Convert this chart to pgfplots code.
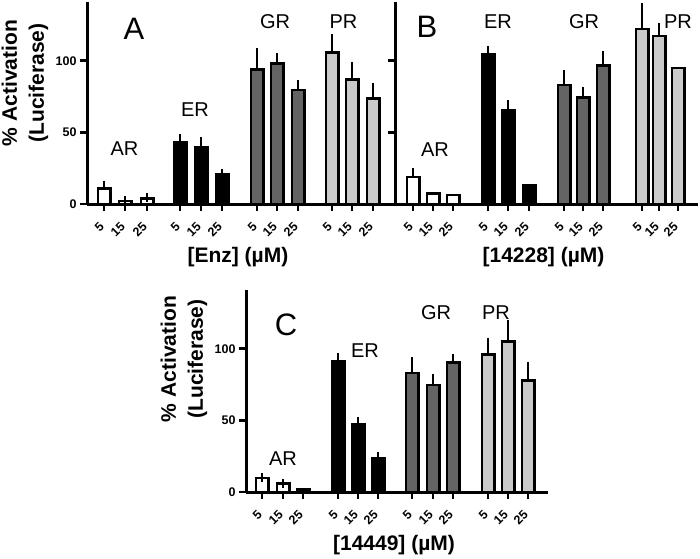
\documentclass[border=0pt]{standalone}
\usepackage{fontspec}
\setmainfont{Liberation Sans}
\usepackage{pgfplots}
\pgfplotsset{compat=1.18}
\definecolor{grbar}{RGB}{100,100,100}
\definecolor{prbar}{RGB}{202,202,202}
\newcommand{\rt}[1]{\rotatebox{45}{#1}}

\pgfplotsset{
  panel/.style={
    scale only axis, height=202pt, ymin=0, ymax=141, xmin=0,
    axis lines*=left, axis line style={-, line width=3pt},
    ybar, bar width=12.5pt, bar shift=0pt, clip=false,
    ytick={0,50,100}, tick align=outside, major tick length=7pt,
    tick style={line width=2.5pt, black},
    /pgf/number format/assume math mode=true,
    ticklabel style={font=\bfseries\fontsize{12.5}{12.5}\selectfont},
    xticklabel style={anchor=north east, inner sep=0pt, xshift=1pt, yshift=-10pt},
    xticklabels={\rt{5},\rt{15},\rt{25},\rt{5},\rt{15},\rt{25},\rt{5},\rt{15},\rt{25},\rt{5},\rt{15},\rt{25}},
    ylabel={\% Activation\\(Luciferase)},
    ylabel style={at={(axis description cs:0,0.5)}, yshift=62pt, xshift=20pt,
      anchor=center, align=center, font=\bfseries\fontsize{21}{27}\selectfont},
    xlabel style={at={(axis description cs:0.49,0)}, yshift=-58pt, anchor=base,
      font=\bfseries\fontsize{21}{21}\selectfont},
    every axis plot/.append style={draw=black, line width=2.5pt,
      error bars/y dir=plus, error bars/y explicit,
      error bars/error bar style={line width=2.5pt, black},
      error bars/error mark options={line width=2.5pt, mark size=4.5pt, black}},
  },
  noerr/.style={error bars/y dir=none},
}
\tikzset{
  tag/.style={font=\fontsize{20}{20}\selectfont, inner sep=0pt},
  letter/.style={font=\fontsize{31}{31}\selectfont, inner sep=0pt},
}

\begin{document}
\begin{tikzpicture}
\useasboundingbox (0,0) rectangle (700pt,558pt);

% panel A
\begin{axis}[panel, at={(87pt,354pt)}, anchor=south west,
  width=308pt, xmax=308,
  xtick={17,38,60,93,114,135,170,190,211,245,265,286},
  xlabel={[Enz] (µM)}]
\addplot[fill=white] coordinates {(17,10.9) +- (0,2.3) (38,2.1) +- (0,0.4) (60,3.9) +- (0,0.7)};
\addplot[fill=black] coordinates {(93,42.8) +- (0,2.8) (114,39.6) +- (0,3.7) (135,21.1) +- (0,0.3)};
\addplot[fill=grbar] coordinates {(170,94.0) +- (0,11.8) (190,98.1) +- (0,4.2) (211,79.6) +- (0,3.7)};
\addplot[fill=prbar] coordinates {(245,105.8) +- (0,9.9) (265,87.0) +- (0,8.8) (286,73.8) +- (0,7.2)};
\node[letter] at (axis cs:47,122) {A};
\node[tag] at (axis cs:37.5,38.4) {AR};
\node[tag] at (axis cs:108,65.6) {ER};
\node[tag] at (axis cs:188,127) {GR};
\node[tag] at (axis cs:256.5,127) {PR};
\end{axis}

% panel B
\begin{axis}[panel, at={(395pt,354pt)}, anchor=south west,
  width=303pt, xmax=303, yticklabels={}, ylabel={},
  xtick={18,38,58,93,113,134,169,188,208,247,264,283},
  xlabel={[14228] (µM)}]
\addplot[fill=white] coordinates {(18,19.0) +- (0,2.8)};
\addplot[fill=white, noerr] coordinates {(38,7.4) (58,6.3)};
\addplot[fill=black] coordinates {(93,104.2) +- (0,2.8) (113,65.7) +- (0,3.5)};
\addplot[fill=black, noerr] coordinates {(134,13.0)};
\addplot[fill=grbar] coordinates {(169,83.1) +- (0,7.6) (188,74.3) +- (0,4.4) (208,96.8) +- (0,6.7)};
\addplot[fill=prbar] coordinates {(247,122.2) +- (0,15.3) (264,117.1) +- (0,6.0)};
\addplot[fill=prbar, noerr] coordinates {(283,95.1)};
\node[letter] at (axis cs:32,123.6) {B};
\node[tag] at (axis cs:40,37.7) {AR};
\node[tag] at (axis cs:103,127) {ER};
\node[tag] at (axis cs:189,127) {GR};
\node[tag] at (axis cs:283,127) {PR};
\end{axis}

% panel C
\begin{axis}[panel, at={(246pt,66pt)}, anchor=south west,
  width=302pt, xmax=302, ylabel style={xshift=12pt},
  xtick={16,37,57,92,112,132,166,187,207,242,262,282},
  xlabel={[14449] (µM)}]
\addplot[fill=white] coordinates {(16,9.9) +- (0,0.4) (37,5.8) +- (0,0.4)};
\addplot[fill=white, noerr] coordinates {(57,1.8)};
\addplot[fill=black] coordinates {(92,91.2) +- (0,2.8) (112,47.3) +- (0,1.9) (132,23.6) +- (0,1.1)};
\addplot[fill=grbar] coordinates {(166,83.1) +- (0,7.9) (187,74.6) +- (0,4.4) (207,90.5) +- (0,2.8)};
\addplot[fill=prbar] coordinates {(242,96.1) +- (0,8.5) (262,105.1) +- (0,12.0) (282,77.8) +- (0,10.0)};
\node[letter] at (axis cs:40,116.6) {C};
\node[tag] at (axis cs:37,23) {AR};
\node[tag] at (axis cs:119,98.4) {ER};
\node[tag] at (axis cs:190,125) {GR};
\node[tag] at (axis cs:250,125) {PR};
\end{axis}
\end{tikzpicture}
\end{document}
